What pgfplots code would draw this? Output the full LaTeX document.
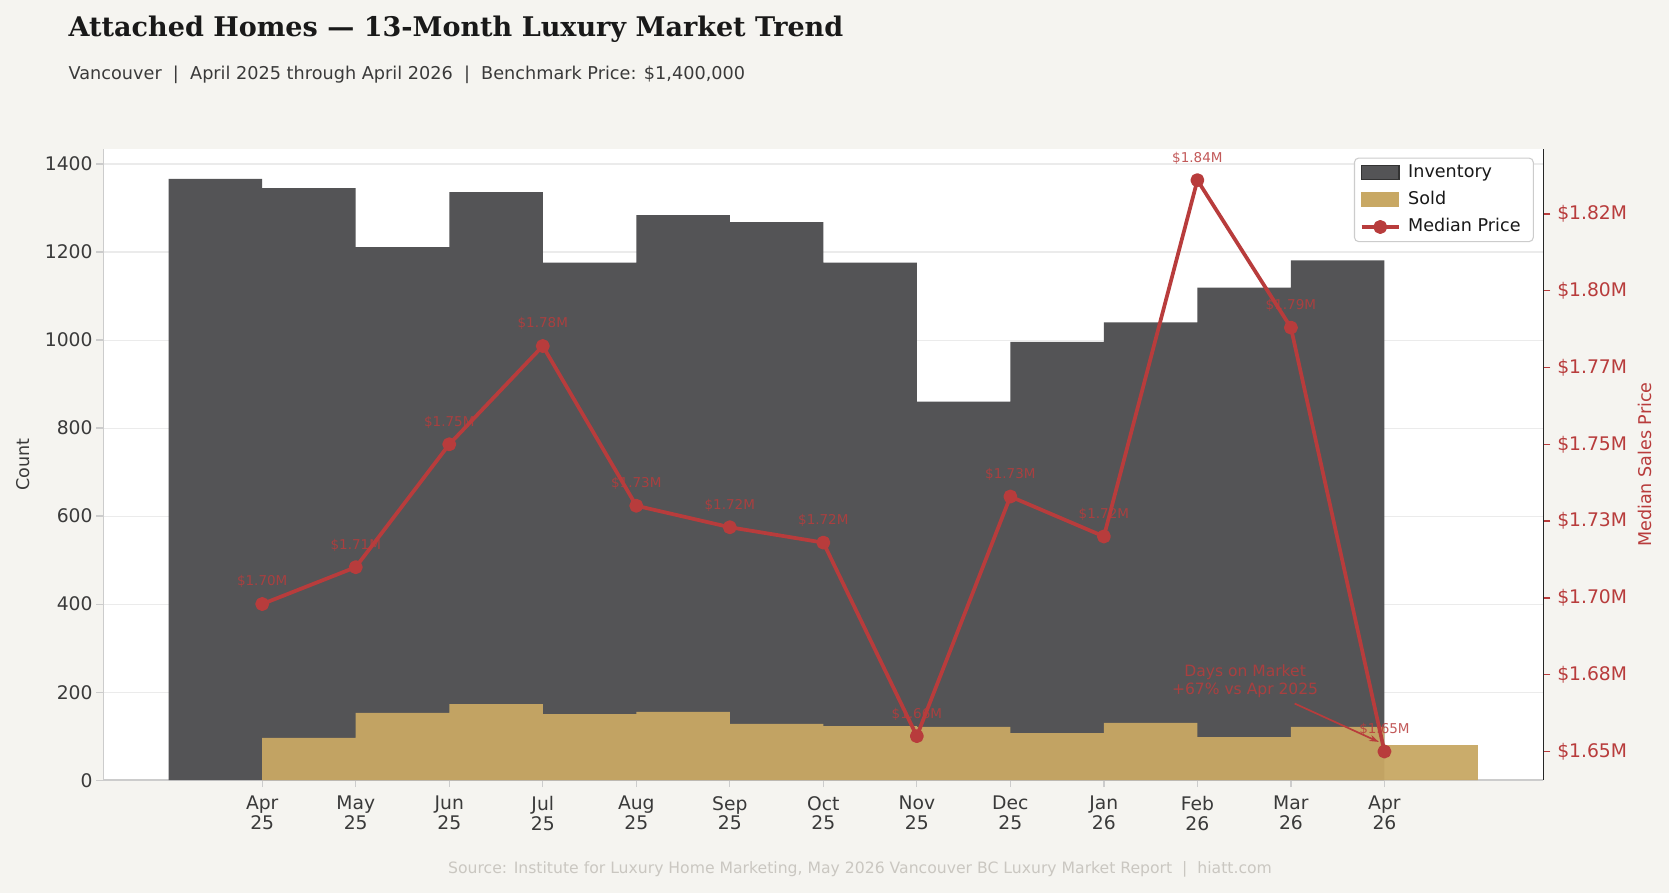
\documentclass[border=0pt]{standalone}
\usepackage{fontspec}
\setmainfont{DejaVu Sans}
\newfontfamily\titlefont{DejaVu Serif}
\usepackage{pgfplots}
\usepackage{pgfplotstable}
\pgfplotsset{compat=1.18}
\usetikzlibrary{arrows.meta}

\definecolor{bgc}{HTML}{F5F4F0}
\definecolor{invc}{HTML}{545456}
\definecolor{soldc}{HTML}{C8A864}
\definecolor{pricec}{HTML}{B83C3C}
\definecolor{spinec}{HTML}{CCCCCC}
\definecolor{txtc}{HTML}{3A3A3A}
\definecolor{gridc}{HTML}{EBEBEB}
\definecolor{srcc}{HTML}{CAC7C1}

% month index, inventory, sold, median price ($M), label
\pgfplotstableread{
idx inv sold price lab
0 1366 96 1.698 1.70
1 1345 153 1.710 1.71
2 1211 173 1.750 1.75
3 1336 150 1.782 1.78
4 1176 155 1.730 1.73
5 1284 128 1.723 1.72
6 1268 123 1.718 1.72
7 1176 121 1.655 1.66
8 860 107 1.733 1.73
9 996 130 1.720 1.72
10 1040 98 1.836 1.84
11 1119 121 1.788 1.79
12 1181 80 1.650 1.65
}\datatable

\pgfplotsset{
  invleg/.style={legend image code/.code={\draw[sharp corners, fill=invc, draw=black!80, line width=1.2pt] (0pt,-6.5pt) rectangle (35pt,6.5pt);}},
  soldleg/.style={legend image code/.code={\fill[sharp corners, soldc] (0pt,-6.5pt) rectangle (35pt,6.5pt);}},
  priceleg/.style={legend image code/.code={\draw[sharp corners, pricec, line width=3.5pt] (0pt,0pt) -- (35pt,0pt); \fill[pricec] (17.5pt,0pt) circle (4.8pt);}},
}

\begin{document}
\begin{tikzpicture}
\fill[bgc] (0,0) rectangle (1568pt,839pt);

\begin{axis}[
  at={(97pt,106pt)}, anchor=south west,
  width=1353pt, height=593pt, scale only axis,
  xmin=-1.7, xmax=13.7, ymin=0, ymax=1434,
  axis x line*=bottom, axis y line*=left,
  axis line style={spinec, line width=1.4pt},
  axis background/.style={fill=white},
  xtick={0,...,12},
  xticklabels={Apr\\25,May\\25,Jun\\25,Jul\\25,Aug\\25,Sep\\25,Oct\\25,Nov\\25,Dec\\25,Jan\\26,Feb\\26,Mar\\26,Apr\\26},
  xticklabel style={align=center, font=\fontsize{17.6}{18.6}\selectfont, text=txtc, yshift=-5pt},
  ytick={0,200,...,1400},
  yticklabel style={font=\fontsize{17.6}{20}\selectfont, text=txtc},
  /pgf/number format/assume math mode=true,
  /pgf/number format/1000 sep={},
  tick align=outside, major tick length=6.5pt,
  tick style={spinec, line width=1.2pt},
  ymajorgrids, grid style={gridc, line width=1pt},
  ylabel={Count},
  every axis y label/.style={at={(axis description cs:-0.0554,0.5)}, rotate=90, anchor=center, font=\fontsize{16.5}{19}\selectfont, text=txtc},
]
\addplot[ybar, bar width=1, bar shift=0pt, fill=invc, draw=none] table[x expr=\thisrow{idx}-0.5, y=inv] {\datatable};
\addplot[ybar, bar width=1, bar shift=0pt, fill=soldc, fill opacity=0.95, draw=none] table[x expr=\thisrow{idx}+0.5, y=sold] {\datatable};
\end{axis}

\begin{axis}[
  at={(97pt,106pt)}, anchor=south west,
  width=1353pt, height=593pt, scale only axis,
  xmin=-1.7, xmax=13.7, ymin=1.64064, ymax=1.84614,
  axis x line=none, axis y line*=right,
  y axis line style={black!85, line width=1.5pt},
  ytick={1.65,1.675,1.7,1.725,1.75,1.775,1.8,1.825},
  yticklabels={\$1.65M,\$1.68M,\$1.70M,\$1.73M,\$1.75M,\$1.77M,\$1.80M,\$1.82M},
  yticklabel style={font=\fontsize{17.6}{20}\selectfont, text=pricec, xshift=3pt},
  tick align=outside, major tick length=6.5pt,
  ytick style={pricec, line width=1.2pt},
  ylabel={Median Sales Price},
  every axis y label/.style={at={(axis description cs:1.0702,0.5)}, rotate=90, anchor=center, font=\fontsize{16.5}{19}\selectfont, text=pricec},
  clip=false,
  legend style={at={(1,1)}, anchor=north east, xshift=-9pt, yshift=-8pt,
    draw=spinec, line width=1pt, rounded corners=4pt, fill=white,
    font=\fontsize{16.5}{19}\selectfont, text=black!90,
    row sep=6pt, inner xsep=5pt, inner ysep=4pt,
    nodes={inner sep=2pt, inner xsep=7pt, text height=12pt, text depth=3.5pt}},
  legend cell align=left,
]
\addlegendimage{invleg}
\addlegendentry{Inventory}
\addlegendimage{soldleg}
\addlegendentry{Sold}
\addplot[pricec, line width=3.5pt, line join=round, mark=*, mark size=4.8pt, mark options={solid}, priceleg,
  point meta=explicit symbolic,
  nodes near coords={\$\pgfplotspointmeta M},
  every node near coord/.append style={anchor=base, yshift=17pt, inner sep=0pt, font=\fontsize{12.7}{14}\selectfont, text=pricec, opacity=0.85}]
  table[x=idx, y=price, meta=lab] {\datatable};
\addlegendentry{Median Price}

\node[font=\fontsize{14.6}{16.5}\selectfont, text=pricec, align=center, opacity=0.85] at (axis cs:10.51,1.6729) {Days on Market\\+67\% vs Apr 2025};
\draw[-{Stealth[length=9pt,width=6pt]}, pricec, line width=1.6pt] (axis cs:11.04,1.6656) -- (axis cs:11.94,1.6531);
\end{axis}

\node[anchor=base west, text=black!90, font=\titlefont\bfseries\fontsize{25.4}{30}\selectfont] at (61pt,805pt) {Attached Homes — 13-Month Luxury Market Trend};
\node[anchor=base west, text=txtc, font=\fontsize{16.6}{19}\selectfont] at (61pt,764.5pt) {Vancouver~~|~~April 2025 through April 2026~~|~~Benchmark Price: \$1,400,000};
\node[anchor=base, text=srcc, font=\fontsize{14.7}{17}\selectfont] at (808pt,18pt) {Source: Institute for Luxury Home Marketing, May 2026 Vancouver BC Luxury Market Report~~|~~hiatt.com};

\pgfresetboundingbox
\useasboundingbox (0,0) rectangle (1568pt,839pt);
\end{tikzpicture}
\end{document}
